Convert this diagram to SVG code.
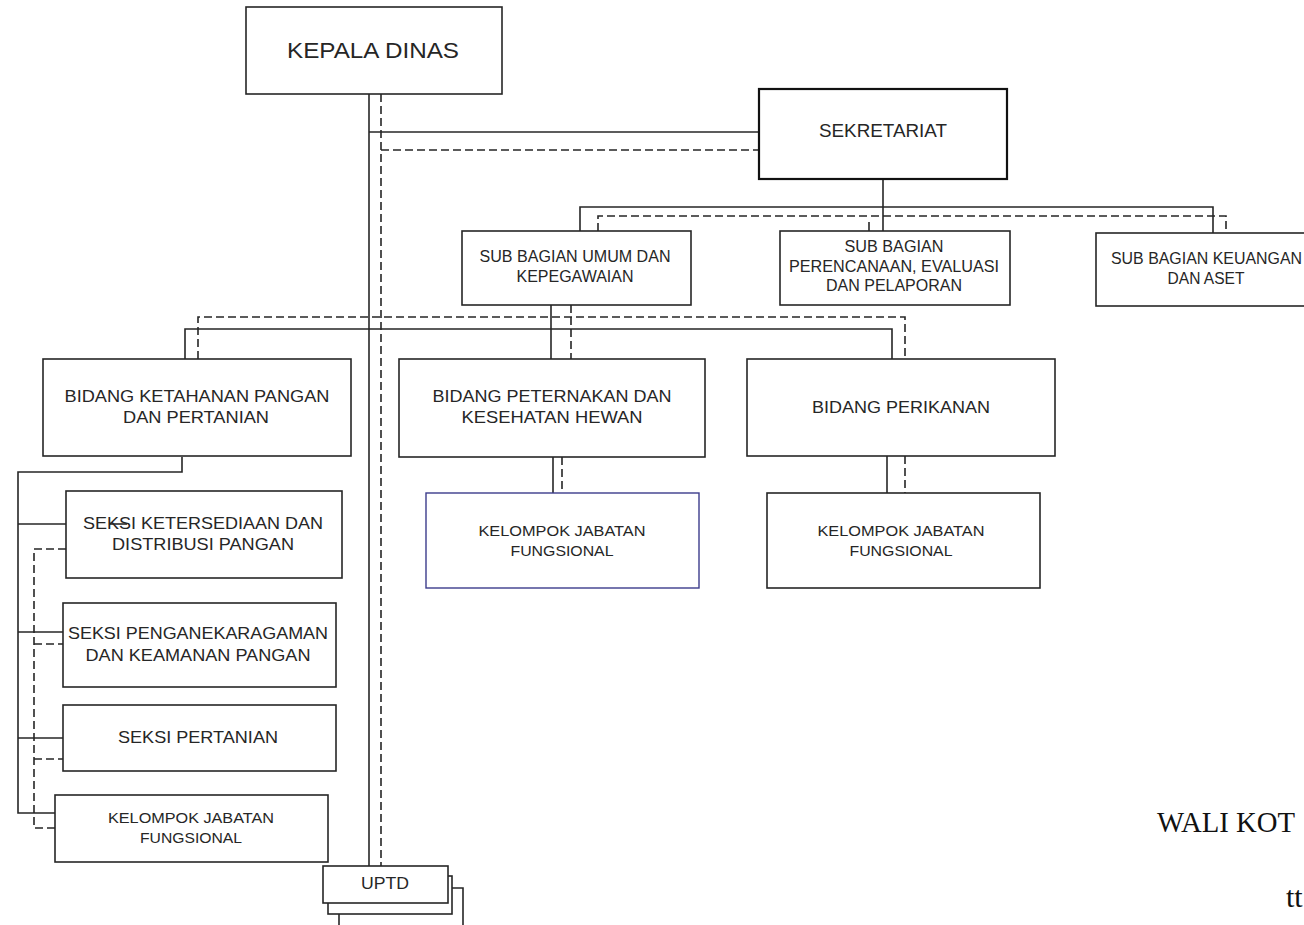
<svg xmlns="http://www.w3.org/2000/svg" width="1304" height="925" viewBox="0 0 1304 925">
<style>
.box{fill:#fff;stroke:#262626;stroke-width:1.6}
.blue{fill:#fff;stroke:#3c3c8c;stroke-width:1.4}
.thick{fill:#fff;stroke:#111;stroke-width:2.2}
.t{font-family:"Liberation Sans",Arial,sans-serif;fill:#262626;text-anchor:middle}
.s{fill:none;stroke:#262626;stroke-width:1.6}
.d{fill:none;stroke:#262626;stroke-width:1.6;stroke-dasharray:8 4}
.serif{font-family:"Liberation Serif","Times New Roman",serif;fill:#111}
</style>
<rect width="1304" height="925" fill="#fff"/>

<g id="connectors">
  <line class="s" x1="369" y1="94" x2="369" y2="867"/>
  <line class="d" x1="381" y1="94" x2="381" y2="867"/>
  <line class="s" x1="369" y1="132" x2="759" y2="132"/>
  <line class="d" x1="381" y1="150" x2="759" y2="150"/>
  <line class="s" x1="883" y1="179" x2="883" y2="231"/>
  <polyline class="s" points="580,231 580,207 1213,207 1213,233"/>
  <polyline class="d" points="598,231 598,216 1226,216 1226,233"/>
  <line class="s" x1="869" y1="222" x2="869" y2="231"/>
  <line class="s" x1="551" y1="305" x2="551" y2="359"/>
  <line class="d" x1="571" y1="305" x2="571" y2="359"/>
  <polyline class="s" points="185,359 185,329 892,329 892,359"/>
  <polyline class="d" points="198,359 198,317 905,317 905,359"/>
  <line class="s" x1="553" y1="457" x2="553" y2="493"/>
  <line class="d" x1="562" y1="457" x2="562" y2="493"/>
  <line class="s" x1="887" y1="456" x2="887" y2="493"/>
  <line class="d" x1="905" y1="456" x2="905" y2="493"/>
  <polyline class="s" points="182,457 182,472 18,472 18,813 55,813"/>
  <line class="s" x1="18" y1="524" x2="66" y2="524"/>
  <line class="s" x1="18" y1="632" x2="63" y2="632"/>
  <line class="s" x1="18" y1="738" x2="63" y2="738"/>
  <polyline class="d" points="66,549 34,549 34,828 55,828"/>
  <line class="d" x1="34" y1="644" x2="63" y2="644"/>
  <line class="d" x1="34" y1="759" x2="63" y2="759"/>
</g>

<g id="kepala-dinas">
  <rect class="box" x="246" y="7" width="256" height="87"/>
  <text class="t" x="373" y="58" font-size="22" textLength="172" lengthAdjust="spacingAndGlyphs">KEPALA DINAS</text>
</g>

<g id="sekretariat">
  <rect class="thick" x="759" y="89" width="248" height="90"/>
  <text class="t" x="883" y="137" font-size="18" textLength="128" lengthAdjust="spacingAndGlyphs">SEKRETARIAT</text>
</g>

<g id="sub-umum">
  <rect class="box" x="462" y="231" width="229" height="74"/>
  <text class="t" x="575" y="262" font-size="16" textLength="191" lengthAdjust="spacingAndGlyphs">SUB BAGIAN UMUM DAN</text>
  <text class="t" x="575" y="282" font-size="16" textLength="117" lengthAdjust="spacingAndGlyphs">KEPEGAWAIAN</text>
</g>

<g id="sub-perencanaan">
  <rect class="box" x="780" y="231" width="230" height="74"/>
  <text class="t" x="894" y="252" font-size="16" textLength="99" lengthAdjust="spacingAndGlyphs">SUB BAGIAN</text>
  <text class="t" x="894" y="272" font-size="16" textLength="210" lengthAdjust="spacingAndGlyphs">PERENCANAAN, EVALUASI</text>
  <text class="t" x="894" y="291" font-size="16" textLength="136" lengthAdjust="spacingAndGlyphs">DAN PELAPORAN</text>
</g>

<g id="sub-keuangan">
  <rect class="box" x="1096" y="233" width="230" height="73"/>
  <text class="t" x="1111" y="264" font-size="16" style="text-anchor:start" textLength="191" lengthAdjust="spacingAndGlyphs">SUB BAGIAN KEUANGAN</text>
  <text class="t" x="1206" y="284" font-size="16" textLength="77" lengthAdjust="spacingAndGlyphs">DAN ASET</text>
</g>

<g id="bidang-ketahanan">
  <rect class="box" x="43" y="359" width="308" height="97"/>
  <text class="t" x="197" y="402" font-size="17" textLength="265" lengthAdjust="spacingAndGlyphs">BIDANG KETAHANAN PANGAN</text>
  <text class="t" x="196" y="423" font-size="17" textLength="146" lengthAdjust="spacingAndGlyphs">DAN PERTANIAN</text>
</g>

<g id="bidang-peternakan">
  <rect class="box" x="399" y="359" width="306" height="98"/>
  <text class="t" x="552" y="402" font-size="17" textLength="239" lengthAdjust="spacingAndGlyphs">BIDANG PETERNAKAN DAN</text>
  <text class="t" x="552" y="423" font-size="17" textLength="181" lengthAdjust="spacingAndGlyphs">KESEHATAN HEWAN</text>
</g>

<g id="bidang-perikanan">
  <rect class="box" x="747" y="359" width="308" height="97"/>
  <text class="t" x="901" y="413" font-size="17" textLength="178" lengthAdjust="spacingAndGlyphs">BIDANG PERIKANAN</text>
</g>

<g id="kelompok-peternakan">
  <rect class="blue" x="426" y="493" width="273" height="95"/>
  <text class="t" x="562" y="536" font-size="15.5" textLength="167" lengthAdjust="spacingAndGlyphs">KELOMPOK JABATAN</text>
  <text class="t" x="562" y="556" font-size="15.5" textLength="103" lengthAdjust="spacingAndGlyphs">FUNGSIONAL</text>
</g>

<g id="kelompok-perikanan">
  <rect class="box" x="767" y="493" width="273" height="95"/>
  <text class="t" x="901" y="536" font-size="15.5" textLength="167" lengthAdjust="spacingAndGlyphs">KELOMPOK JABATAN</text>
  <text class="t" x="901" y="556" font-size="15.5" textLength="103" lengthAdjust="spacingAndGlyphs">FUNGSIONAL</text>
</g>

<g id="seksi-ketersediaan">
  <rect class="box" x="66" y="491" width="276" height="87"/>
  <text class="t" x="203" y="529" font-size="17" textLength="240" lengthAdjust="spacingAndGlyphs">SEKSI KETERSEDIAAN DAN</text>
  <text class="t" x="203" y="550" font-size="17" textLength="182" lengthAdjust="spacingAndGlyphs">DISTRIBUSI PANGAN</text>
  <line class="s" x1="110" y1="524" x2="127" y2="524"/>
</g>

<g id="seksi-penganekaragaman">
  <rect class="box" x="63" y="603" width="273" height="84"/>
  <text class="t" x="198" y="639" font-size="17" textLength="260" lengthAdjust="spacingAndGlyphs">SEKSI PENGANEKARAGAMAN</text>
  <text class="t" x="198" y="661" font-size="17" textLength="225" lengthAdjust="spacingAndGlyphs">DAN KEAMANAN PANGAN</text>
</g>

<g id="seksi-pertanian">
  <rect class="box" x="63" y="705" width="273" height="66"/>
  <text class="t" x="198" y="743" font-size="17" textLength="160" lengthAdjust="spacingAndGlyphs">SEKSI PERTANIAN</text>
</g>

<g id="kelompok-ketahanan">
  <rect class="box" x="55" y="795" width="273" height="67"/>
  <text class="t" x="191" y="823" font-size="15.5" textLength="166" lengthAdjust="spacingAndGlyphs">KELOMPOK JABATAN</text>
  <text class="t" x="191" y="843" font-size="15.5" textLength="102" lengthAdjust="spacingAndGlyphs">FUNGSIONAL</text>
</g>

<g id="uptd">
  <line class="s" x1="339" y1="914" x2="339" y2="925"/>
  <polyline class="s" points="452,888 463,888 463,925"/>
  <rect class="box" x="328" y="876" width="124" height="38"/>
  <rect class="box" x="323" y="866" width="125" height="37"/>
  <text class="t" x="385" y="889" font-size="17" textLength="48" lengthAdjust="spacingAndGlyphs">UPTD</text>
</g>

<g id="wali-kota">
  <text class="serif" x="1157" y="832" font-size="30" textLength="138" lengthAdjust="spacingAndGlyphs">WALI KOT</text>
  <text class="serif" x="1286" y="907" font-size="30">tt</text>
</g>
</svg>
